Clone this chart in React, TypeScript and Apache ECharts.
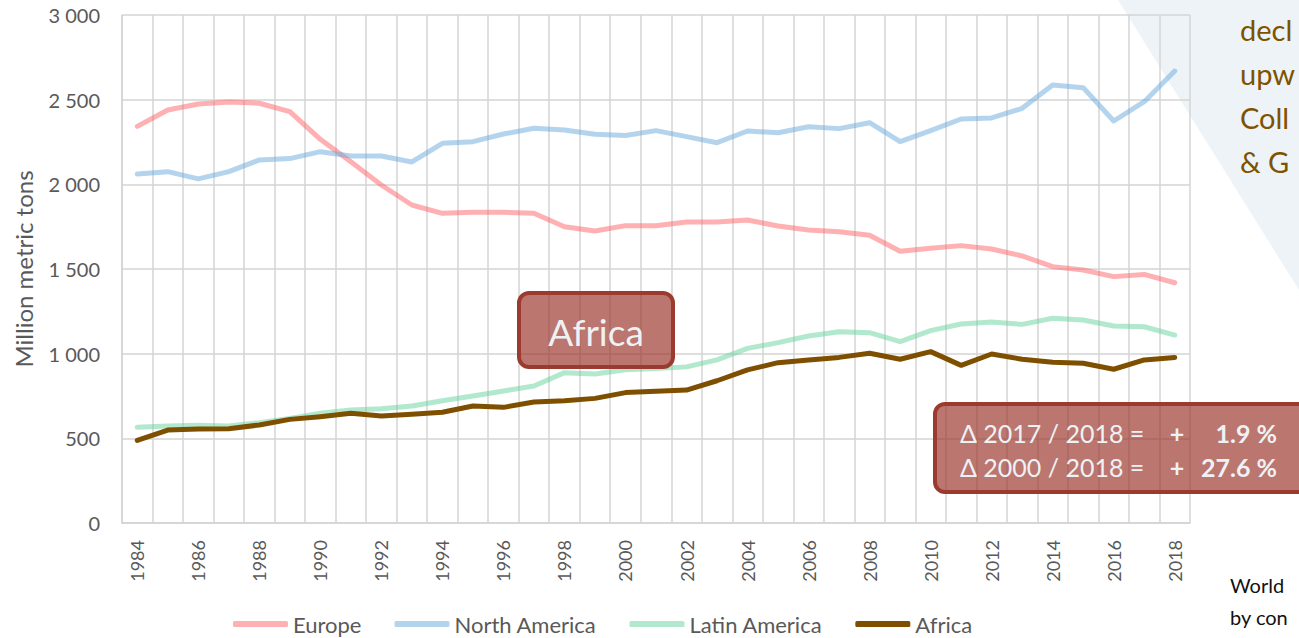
import React, { useEffect, useRef } from "react";
import * as echarts from "echarts";

const years = [
  "1984","1985","1986","1987","1988","1989","1990","1991","1992","1993","1994","1995","1996","1997","1998","1999","2000","2001","2002","2003","2004","2005","2006","2007","2008","2009","2010","2011","2012","2013","2014","2015","2016","2017","2018",
];
const europe = [2342,2439,2474,2486,2479,2429,2266,2134,1996,1878,1829,1835,1835,1829,1750,1724,1756,1756,1778,1778,1789,1754,1730,1720,1699,1605,1622,1638,1618,1577,1514,1494,1455,1468,1419];
const northAmerica = [2061,2075,2032,2075,2144,2152,2193,2167,2167,2132,2242,2252,2297,2331,2321,2296,2288,2317,2282,2246,2315,2305,2340,2329,2364,2252,2317,2386,2392,2449,2587,2571,2374,2488,2669];
const latinAmerica = [565,573,577,573,592,618,648,667,675,691,722,750,780,809,888,880,905,913,922,963,1031,1065,1104,1130,1124,1071,1136,1175,1187,1173,1209,1199,1163,1159,1110];
const africa = [488,549,555,557,579,612,628,648,632,642,654,691,683,715,722,736,770,778,785,840,904,947,963,978,1002,967,1012,931,998,967,949,943,908,963,978];

const seriesNames = ["Europe", "North America", "Latin America", "Africa"];
const yTicks = { min: 0, max: 3000, interval: 500 };
const sideText = ["decl", "upw", "Coll", "& G"];
const noteText = ["World", "by con"];
const deltaRows = [
  { label: "Δ 2017 / 2018 =", sign: "+", value: "1.9 %" },
  { label: "Δ 2000 / 2018 =", sign: "+", value: "27.6 %" },
];

const FONT = "Lato, 'Noto Sans', sans-serif";
const BOX_FILL = "rgba(150,45,35,0.65)";
const BOX_STROKE = "#9b3a2e";
const BOX_TEXT = "#eef2f5";

export default function App() {
  const ref = useRef<HTMLDivElement>(null);
  useEffect(() => {
    if (!ref.current) return;
    const chart = echarts.init(ref.current, null, { renderer: "svg" });
    const mk = (name: string, data: number[], line: string, opacity: number, item: string) => ({
      name,
      type: "line",
      data,
      symbol: "none",
      smooth: false,
      itemStyle: { color: item },
      lineStyle: { color: line, width: 5, opacity, cap: "round", join: "round" },
    });
    const graphic: any[] = [
      {
        type: "polygon",
        z: -10,
        silent: true,
        shape: { points: [[1118, 0], [1299, 0], [1299, 290]] },
        style: { fill: "#edf3f7" },
      },
    ];
    sideText.forEach((t, i) => {
      graphic.push({
        type: "text",
        x: 1240,
        y: 29 + i * 44,
        style: { text: t, fill: "#7f5200", font: `29px ${FONT}`, verticalAlign: "middle", align: "left" },
      });
    });
    noteText.forEach((t, i) => {
      graphic.push({
        type: "text",
        x: 1230,
        y: 585 + i * 32,
        style: { text: t, fill: "#111", font: `20px ${FONT}`, verticalAlign: "middle", align: "left" },
      });
    });
    graphic.push({
      type: "rect",
      z: 50,
      shape: { x: 519, y: 293, width: 154, height: 74, r: 10 },
      style: { fill: BOX_FILL, stroke: BOX_STROKE, lineWidth: 4 },
    });
    graphic.push({
      type: "text",
      z: 51,
      x: 596,
      y: 331,
      style: { text: "Africa", fill: BOX_TEXT, font: `37px ${FONT}`, align: "center", verticalAlign: "middle" },
    });
    graphic.push({
      type: "rect",
      z: 50,
      shape: { x: 935, y: 404, width: 420, height: 88, r: 10 },
      style: { fill: BOX_FILL, stroke: BOX_STROKE, lineWidth: 4 },
    });
    deltaRows.forEach((r, i) => {
      const y = 433 + i * 34;
      graphic.push({
        type: "text", z: 51, x: 960, y,
        style: { text: r.label, fill: BOX_TEXT, font: `25px ${FONT}`, align: "left", verticalAlign: "middle" },
      });
      graphic.push({
        type: "text", z: 51, x: 1177, y,
        style: { text: r.sign, fill: BOX_TEXT, font: `bold 25px ${FONT}`, align: "center", verticalAlign: "middle" },
      });
      graphic.push({
        type: "text", z: 51, x: 1277, y,
        style: { text: r.value, fill: BOX_TEXT, font: `bold 25px ${FONT}`, align: "right", verticalAlign: "middle" },
      });
    });

    chart.setOption({
      animation: false,
      backgroundColor: "#ffffff",
      grid: { left: 122, right: 109, top: 15, bottom: 115, containLabel: false },
      legend: {
        data: seriesNames,
        left: 233,
        top: 613,
        padding: 0,
        icon: "roundRect",
        itemWidth: 55,
        itemHeight: 6,
        itemGap: 33,
        textStyle: { color: "#595959", fontSize: 22, fontFamily: FONT, padding: [0, 0, 0, 0] },
      },
      xAxis: {
        type: "category",
        data: years,
        boundaryGap: true,
        axisLine: { show: true, lineStyle: { color: "#d4d4d4", width: 1.5 } },
        axisTick: { show: false, interval: 0 },
        axisLabel: { interval: 1, rotate: 90, color: "#595959", fontSize: 18, fontFamily: FONT, margin: 17 },
        splitLine: { show: true, interval: 0, lineStyle: { color: "#d4d4d4", width: 1.5 } },
      },
      yAxis: {
        type: "value",
        min: yTicks.min,
        max: yTicks.max,
        interval: yTicks.interval,
        name: "Million metric tons",
        nameLocation: "middle",
        nameRotate: 90,
        nameGap: 87,
        nameTextStyle: { color: "#595959", fontSize: 24, fontFamily: FONT },
        axisLine: { show: true, lineStyle: { color: "#d4d4d4", width: 1.5 } },
        axisTick: { show: false },
        axisLabel: {
          color: "#595959",
          fontSize: 20,
          fontFamily: FONT,
          margin: 22,
          formatter: (v: number) => String(v).replace(/\B(?=(\d{3})+(?!\d))/g, " "),
        },
        splitLine: { show: true, lineStyle: { color: "#d4d4d4", width: 1.5 } },
      },
      graphic,
      series: [
        mk("Europe", europe, "rgb(255,97,101)", 0.5, "#ffb0b2"),
        mk("North America", northAmerica, "rgb(105,169,221)", 0.5, "#b4d4ee"),
        mk("Latin America", latinAmerica, "rgb(101,209,155)", 0.5, "#b2e8cd"),
        mk("Africa", africa, "#7f4f00", 1, "#7f4f00"),
      ],
    });
    return () => chart.dispose();
  }, []);
  return (
    <div
      ref={ref}
      style={{ position: "fixed", left: 0, top: 0, width: 1299, height: 638, background: "#fff" }}
    />
  );
}
